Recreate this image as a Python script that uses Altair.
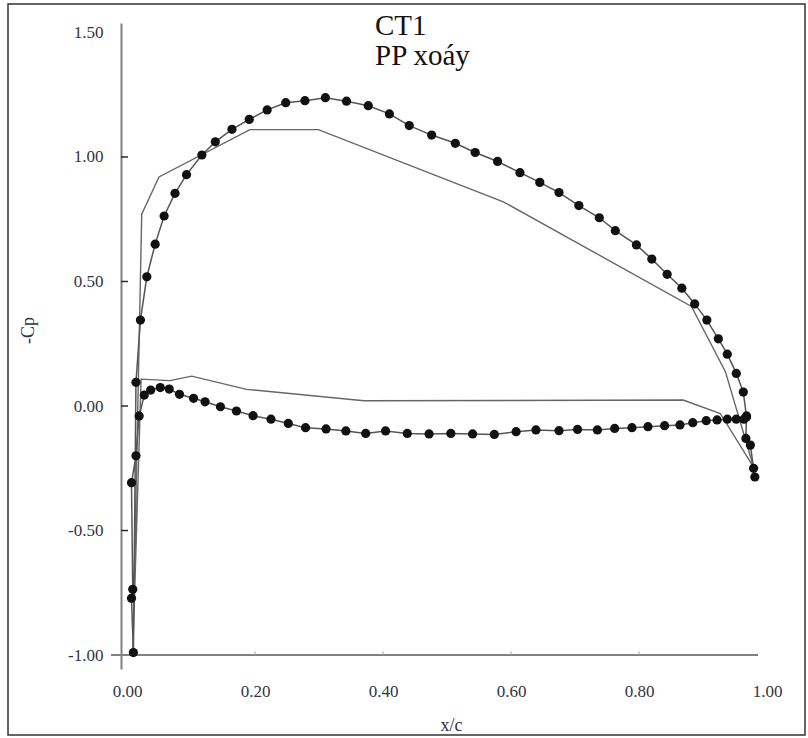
import altair as alt
import pandas as pd

# ---- data ----
# dotted series (vortex method), lower surface from trailing edge to leading edge
lower_x = [0.968, 0.964, 0.952, 0.938, 0.922, 0.905, 0.884, 0.864, 0.840, 0.814,
           0.789, 0.762, 0.735, 0.704, 0.675, 0.639, 0.608, 0.574, 0.540, 0.506,
           0.472, 0.438, 0.404, 0.373, 0.342, 0.311, 0.279, 0.252, 0.225, 0.197,
           0.171, 0.146, 0.122, 0.104, 0.082, 0.066, 0.052, 0.037, 0.027, 0.019,
           0.014, 0.007, 0.009, 0.007, 0.010]
lower_y = [-0.040, -0.053, -0.053, -0.053, -0.056, -0.059, -0.067, -0.076, -0.079, -0.083,
           -0.087, -0.090, -0.096, -0.094, -0.099, -0.096, -0.103, -0.114, -0.112, -0.110,
           -0.112, -0.110, -0.100, -0.110, -0.100, -0.092, -0.087, -0.070, -0.053, -0.039,
           -0.020, -0.003, 0.017, 0.031, 0.047, 0.068, 0.074, 0.064, 0.044, -0.040,
           -0.200, -0.308, -0.736, -0.772, -0.990]
# upper surface from leading edge to trailing edge
upper_x = [0.014, 0.021, 0.031, 0.044, 0.058, 0.075, 0.093, 0.117, 0.138, 0.164,
           0.191, 0.219, 0.248, 0.278, 0.310, 0.343, 0.377, 0.410, 0.441, 0.476,
           0.513, 0.544, 0.579, 0.614, 0.645, 0.675, 0.706, 0.738, 0.763, 0.796,
           0.820, 0.844, 0.867, 0.887, 0.906, 0.924, 0.938, 0.952, 0.963, 0.968,
           0.967, 0.974, 0.979, 0.981]
upper_y = [0.095, 0.345, 0.519, 0.650, 0.763, 0.854, 0.929, 1.008, 1.061, 1.111,
           1.151, 1.189, 1.218, 1.226, 1.238, 1.224, 1.206, 1.173, 1.126, 1.088,
           1.055, 1.018, 0.982, 0.937, 0.898, 0.857, 0.805, 0.756, 0.704, 0.647,
           0.590, 0.529, 0.473, 0.410, 0.345, 0.270, 0.208, 0.131, 0.056, -0.044,
           -0.130, -0.157, -0.250, -0.285]

# plain line series (other method), TE -> lower -> LE -> upper -> TE
thin_x = [0.979, 0.927, 0.869, 0.370, 0.187, 0.101, 0.067, 0.022, 0.009,
          0.023, 0.050, 0.192, 0.299, 0.588, 0.882, 0.935, 0.979]
thin_y = [-0.245, -0.030, 0.024, 0.021, 0.067, 0.120, 0.102, 0.108, -1.000,
          0.770, 0.920, 1.110, 1.110, 0.820, 0.400, 0.138, -0.245]

x_ticks = [0.0, 0.2, 0.4, 0.6, 0.8, 1.0]
x_minor = [0.2, 0.4, 0.6, 0.8]
y_ticks = [-1.0, -0.5, 0.0, 0.5, 1.0, 1.5]
y_marks = [-0.5, 0.0, 0.5, 1.0]
title_text = "CT1\nPP xoáy"

# ---- tables ----
dots = pd.DataFrame({"x": lower_x + upper_x, "y": lower_y + upper_y})
dots["i"] = range(len(dots))
thin = pd.DataFrame({"x": thin_x, "y": thin_y})
thin["i"] = range(len(thin))
xminor_df = pd.DataFrame({"x": x_minor})
ymarks_df = pd.DataFrame({"y": y_marks})

X_DOMAIN = [-0.009375, 1.0]
Y_DOMAIN = [-1.056, 1.538]
xs = alt.Scale(domain=X_DOMAIN, nice=False, zero=False)
ys = alt.Scale(domain=Y_DOMAIN, nice=False, zero=False)

SERIF = "'Liberation Serif', 'Times New Roman', Times, serif"
LBL = "#333344"
label_expr = "datum.value < 0 ? '-' + format(-datum.value, '.2f') : format(datum.value, '.2f')"

xaxis = alt.Axis(values=x_ticks, labelExpr=label_expr, domain=False, ticks=False,
                 tickSize=0, grid=False, labelPadding=14, labelFlush=False,
                 labelOverlap=False, labelFont=SERIF, labelFontSize=17,
                 labelColor=LBL, title="x/c", titleFont=SERIF, titleFontSize=18,
                 titleFontWeight="normal", titleColor=LBL, titleX=330, titleY=56,
                 titleBaseline="middle", titleAlign="center")
yaxis = alt.Axis(values=y_ticks, labelExpr=label_expr, domain=True,
                 domainColor="#808080", domainWidth=2, ticks=False, tickSize=0,
                 grid=False, labelPadding=18, labelFlush=False, labelOverlap=False,
                 labelFont=SERIF, labelFontSize=17, labelColor=LBL, title="-Cp",
                 titleFont=SERIF, titleFontSize=18, titleFontWeight="normal",
                 titleColor=LBL, titleX=-93, titleY=307, titleBaseline="middle",
                 titleAlign="center", titleAngle=270)

X = alt.X("x:Q", scale=xs, axis=xaxis)
Y = alt.Y("y:Q", scale=ys, axis=yaxis)

frame = alt.Chart(pd.DataFrame({"k": [0]})).mark_rect(
    fillOpacity=0, stroke="#333333", strokeWidth=1.5
).encode(x=alt.value(-113), x2=alt.value(684), y=alt.value(-19), y2=alt.value(712))

x_line = alt.Chart(pd.DataFrame({"k": [0]})).mark_rule(
    color="#808080", strokeWidth=2
).encode(x=alt.datum(-0.025, scale=xs), x2=alt.datum(0.986), y=alt.datum(-1.0, scale=ys))

x_minor_ticks = alt.Chart(xminor_df).mark_rule(color="#9aaabb", strokeWidth=1).encode(
    x=X, y=alt.datum(-1.0), y2=alt.datum(-0.985)
)

y_tick_marks = alt.Chart(ymarks_df).mark_rule(color="#442222", strokeWidth=1.5).encode(
    y=Y, x=alt.datum(X_DOMAIN[0]), x2=alt.datum(0.0016)
)

thin_line = alt.Chart(thin).mark_line(color="#666666", strokeWidth=1.4).encode(
    x=X, y=Y, order="i:Q"
)

dot_line = alt.Chart(dots).mark_line(color="#555555", strokeWidth=1.5).encode(
    x=X, y=Y, order="i:Q"
)

dot_pts = alt.Chart(dots).mark_circle(color="#111111", opacity=1, size=85).encode(
    x=X, y=Y
)

title = alt.Chart(pd.DataFrame({"t": [title_text]})).mark_text(
    font=SERIF, fontSize=29, color="#111111", align="left", baseline="alphabetic",
    lineBreak="\n", lineHeight=30
).encode(x=alt.value(254), y=alt.value(12), text="t:N")

chart = alt.layer(
    frame, x_line, x_minor_ticks, y_tick_marks, thin_line, dot_line, dot_pts, title
).properties(
    width=646, height=646,
    padding={"left": 121, "top": 23, "right": 41, "bottom": 69},
    autosize=alt.AutoSizeParams(type="none"),
    background="white",
).configure_view(stroke=None)

chart.save("out.html", embed_options={"renderer": "svg", "actions": False})
